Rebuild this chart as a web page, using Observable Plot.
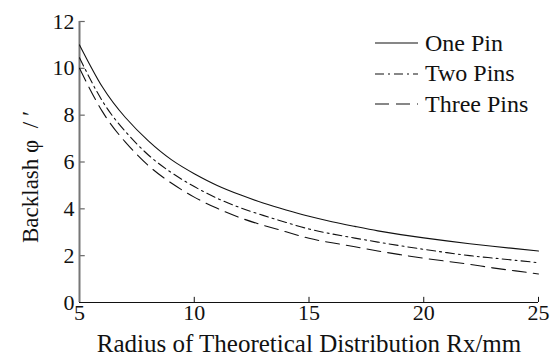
<!DOCTYPE html>
<html>
<head>
<meta charset="utf-8">
<script src="https://cdn.jsdelivr.net/npm/d3@7"></script>
<script src="https://cdn.jsdelivr.net/npm/@observablehq/plot@0.6"></script>
<style>
  html, body { margin: 0; padding: 0; background: #fff; }
  #wrap { position: relative; width: 556px; height: 356px; font-family: "Times New Roman", Tinos, Times, serif; }
  #wrap svg text { font-family: "Times New Roman", Tinos, Times, serif; }
  #legend { position: absolute; left: 375px; top: 28px; font-size: 24px; color: #111; }
  .row { display: flex; align-items: center; height: 30.5px; }
  .row svg { width: 44px; height: 10px; margin-right: 6px; }
</style>
</head>
<body>
<div id="wrap"></div>
<script>
const radius = [5,6,7,8,9,10,11,12,13,14,15,16,17,18,19,20,21,22,23,24,25];
const onePin   = [11.0,9.2,7.9,6.9,6.1,5.5,5.0,4.6,4.25,3.95,3.68,3.45,3.25,3.06,2.9,2.76,2.63,2.51,2.4,2.3,2.2];
const twoPins  = [10.45,8.6,7.3,6.3,5.55,4.95,4.45,4.05,3.72,3.42,3.14,2.93,2.75,2.58,2.42,2.27,2.13,2.0,1.9,1.8,1.7];
const threePins= [10.0,8.15,6.85,5.85,5.1,4.5,4.02,3.62,3.3,3.02,2.74,2.55,2.38,2.2,2.04,1.89,1.76,1.63,1.48,1.35,1.22];
const seriesNames = ["One Pin", "Two Pins", "Three Pins"];
const xTicks = [5,10,15,20,25];
const yTicks = [0,2,4,6,8,10,12];
const xTitle = "Radius of Theoretical Distribution Rx/mm";
const yTitle = "Backlash \u03C6\u00A0\u00A0/ \u2032";

const dashes = ["none", "9,4,2,4", "14,7"];
const seriesValues = [onePin, twoPins, threePins];
const rows = [];
seriesValues.forEach((vals, s) => vals.forEach((v, i) => rows.push({x: radius[i], y: v, series: seriesNames[s]})));

const font = "'Times New Roman', Tinos, Times, serif";
const chart = Plot.plot({
  width: 556,
  height: 356,
  marginLeft: 79,
  marginRight: 18,
  marginTop: 21,
  marginBottom: 54,
  style: { fontFamily: font, background: "#fff", color: "#111" },
  x: { domain: [5, 25] },
  y: { domain: [0, 12] },
  marks: [
    Plot.axisX({ ticks: xTicks, tickSize: 0, tickPadding: 2, fontSize: 22, label: null, tickFormat: d => d }),
    Plot.axisY({ ticks: yTicks, tickSize: 0, tickPadding: 5, fontSize: 22, label: null, tickFormat: d => d }),
    Plot.ruleX(xTicks.slice(1), { y1: 0, y2: 0.22, stroke: "#111", strokeWidth: 1 }),
    Plot.ruleY(yTicks.slice(1), { x1: 5, x2: 5.25, stroke: "#666", strokeWidth: 1.2 }),
    Plot.ruleY([0], { stroke: "#111", strokeWidth: 1.2 }),
    Plot.ruleX([5], { stroke: "#777", strokeWidth: 2 }),
    ...seriesNames.map((name, s) =>
      Plot.line(rows.filter(d => d.series === name), {
        x: "x", y: "y", curve: "natural", stroke: "#111", strokeWidth: 1.1,
        strokeDasharray: dashes[s]
      })),
    Plot.text([xTitle], { frameAnchor: "bottom", lineAnchor: "middle", dy: 41, fontSize: 25, fill: "#111" }),
    Plot.text([yTitle], { frameAnchor: "left", textAnchor: "middle", rotate: -90, dx: -49, dy: 15, fontSize: 23, fill: "#111" })
  ]
});
const wrap = document.getElementById("wrap");
wrap.appendChild(chart);

const legend = document.createElement("div");
legend.id = "legend";
seriesNames.forEach((name, s) => {
  const row = document.createElement("div");
  row.className = "row";
  row.innerHTML = `<svg viewBox="0 0 44 10"><line x1="0" y1="5" x2="43" y2="5" stroke="#111" stroke-width="1.1" ${dashes[s] === "none" ? "" : `stroke-dasharray="${dashes[s]}"`}/></svg><span>${name}</span>`;
  legend.appendChild(row);
});
wrap.appendChild(legend);
</script>
</body>
</html>
